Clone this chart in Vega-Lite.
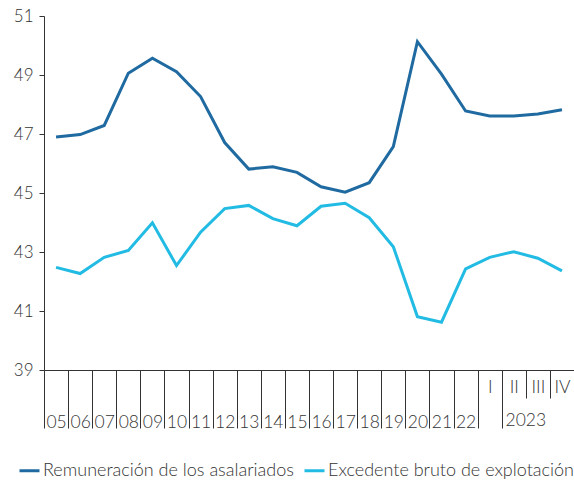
{
  "$schema": "https://vega.github.io/schema/vega-lite/v6.json",
  "width": 530,
  "height": 354,
  "autosize": "none",
  "padding": {"left": 44, "top": 16, "right": 0, "bottom": 111},
  "background": "white",
  "config": {
    "view": {"stroke": null},
    "font": "Lato",
    "axis": {"labelFont": "Lato", "labelFontWeight": 300, "labelColor": "#333333", "domainColor": "#333333", "tickColor": "#333333", "domainWidth": 1, "tickWidth": 1},
    "legend": {"labelFont": "Lato", "labelFontWeight": 300, "labelColor": "#333333"}
  },
  "data": {
    "values": [
      {"period": "05", "serie": "Remuneración de los asalariados", "value": 46.90},
      {"period": "06", "serie": "Remuneración de los asalariados", "value": 46.98},
      {"period": "07", "serie": "Remuneración de los asalariados", "value": 47.29},
      {"period": "08", "serie": "Remuneración de los asalariados", "value": 49.06},
      {"period": "09", "serie": "Remuneración de los asalariados", "value": 49.57},
      {"period": "10", "serie": "Remuneración de los asalariados", "value": 49.11},
      {"period": "11", "serie": "Remuneración de los asalariados", "value": 48.27},
      {"period": "12", "serie": "Remuneración de los asalariados", "value": 46.71},
      {"period": "13", "serie": "Remuneración de los asalariados", "value": 45.81},
      {"period": "14", "serie": "Remuneración de los asalariados", "value": 45.89},
      {"period": "15", "serie": "Remuneración de los asalariados", "value": 45.70},
      {"period": "16", "serie": "Remuneración de los asalariados", "value": 45.21},
      {"period": "17", "serie": "Remuneración de los asalariados", "value": 45.03},
      {"period": "18", "serie": "Remuneración de los asalariados", "value": 45.35},
      {"period": "19", "serie": "Remuneración de los asalariados", "value": 46.57},
      {"period": "20", "serie": "Remuneración de los asalariados", "value": 50.13},
      {"period": "21", "serie": "Remuneración de los asalariados", "value": 49.03},
      {"period": "22", "serie": "Remuneración de los asalariados", "value": 47.78},
      {"period": "I", "serie": "Remuneración de los asalariados", "value": 47.61},
      {"period": "II", "serie": "Remuneración de los asalariados", "value": 47.61},
      {"period": "III", "serie": "Remuneración de los asalariados", "value": 47.68},
      {"period": "IV", "serie": "Remuneración de los asalariados", "value": 47.82},
      {"period": "05", "serie": "Excedente bruto de explotación", "value": 42.48},
      {"period": "06", "serie": "Excedente bruto de explotación", "value": 42.27},
      {"period": "07", "serie": "Excedente bruto de explotación", "value": 42.82},
      {"period": "08", "serie": "Excedente bruto de explotación", "value": 43.05},
      {"period": "09", "serie": "Excedente bruto de explotación", "value": 43.99},
      {"period": "10", "serie": "Excedente bruto de explotación", "value": 42.54},
      {"period": "11", "serie": "Excedente bruto de explotación", "value": 43.67},
      {"period": "12", "serie": "Excedente bruto de explotación", "value": 44.47},
      {"period": "13", "serie": "Excedente bruto de explotación", "value": 44.58},
      {"period": "14", "serie": "Excedente bruto de explotación", "value": 44.13},
      {"period": "15", "serie": "Excedente bruto de explotación", "value": 43.89},
      {"period": "16", "serie": "Excedente bruto de explotación", "value": 44.55},
      {"period": "17", "serie": "Excedente bruto de explotación", "value": 44.65},
      {"period": "18", "serie": "Excedente bruto de explotación", "value": 44.16},
      {"period": "19", "serie": "Excedente bruto de explotación", "value": 43.18},
      {"period": "20", "serie": "Excedente bruto de explotación", "value": 40.81},
      {"period": "21", "serie": "Excedente bruto de explotación", "value": 40.62},
      {"period": "22", "serie": "Excedente bruto de explotación", "value": 42.43},
      {"period": "I", "serie": "Excedente bruto de explotación", "value": 42.82},
      {"period": "II", "serie": "Excedente bruto de explotación", "value": 43.01},
      {"period": "III", "serie": "Excedente bruto de explotación", "value": 42.79},
      {"period": "IV", "serie": "Excedente bruto de explotación", "value": 42.36}
    ]
  },
  "encoding": {
    "y": {
      "field": "value", "type": "quantitative",
      "scale": {"domain": [39, 51], "nice": false, "zero": false},
      "axis": {"title": null, "values": [39, 41, 43, 45, 47, 49, 51], "grid": false, "tickSize": 5, "labelPadding": 6, "labelFontSize": 17}
    },
    "color": {
      "field": "serie", "type": "nominal",
      "scale": {"domain": ["Remuneración de los asalariados", "Excedente bruto de explotación"], "range": ["#1f6aa0", "#22bbe3"]},
      "legend": {"title": null, "orient": "none", "legendX": -26, "legendY": 443, "direction": "horizontal", "symbolType": "stroke", "symbolStrokeWidth": 3, "symbolSize": 400, "labelFontSize": 18, "labelOffset": 2, "labelLimit": 400, "columnPadding": 4}
    }
  },
  "layer": [
    {
      "transform": [{"filter": "datum.serie == 'Remuneración de los asalariados'"}],
      "mark": {"type": "line", "strokeWidth": 3},
      "encoding": {
        "x": {
          "field": "period", "type": "ordinal", "sort": null,
          "scale": {"paddingInner": 0, "paddingOuter": 0},
          "axis": {
            "orient": "bottom", "title": null, "tickBand": "extent", "labelAngle": 0, "labelOverlap": false,
            "labelFontSize": 17.5,
            "tickSize": {"condition": {"test": "indexof(['II','III','IV'], datum.value) >= 0", "value": 28}, "value": 58},
            "labelPadding": {"condition": [
              {"test": "datum.value == 'I'", "value": -50},
              {"test": "indexof(['II','III','IV'], datum.value) >= 0", "value": -20}
            ], "value": -15}
          }
        }
      }
    },
    {
      "transform": [{"filter": "datum.serie == 'Excedente bruto de explotación'"}],
      "mark": {"type": "line", "strokeWidth": 3},
      "encoding": {
        "x": {
          "field": "period", "type": "ordinal", "sort": null,
          "axis": {
            "orient": "bottom", "title": null, "domain": false, "ticks": false, "labelAngle": 0, "labelOverlap": false,
            "labelFontSize": 17.5,
            "labelExpr": "datum.value == 'III' ? '2023' : ''",
            "labelOffset": -12, "labelPadding": 41
          }
        }
      }
    }
  ],
  "resolve": {"axis": {"x": "independent"}}
}
